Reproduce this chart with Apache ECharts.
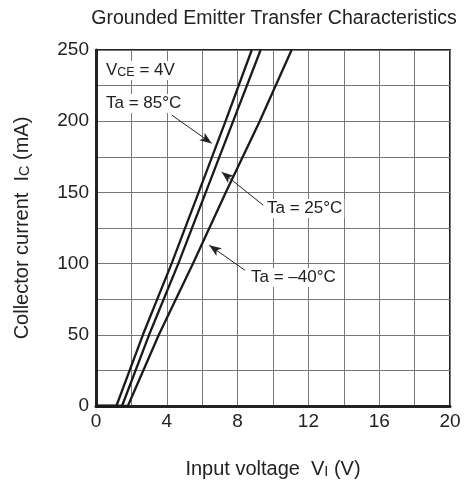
<!DOCTYPE html>
<html>
<head>
<meta charset="utf-8">
<script src="https://cdn.jsdelivr.net/npm/echarts@6/dist/echarts.min.js"></script>
<style>
  html, body { margin: 0; padding: 0; background: #fff; }
  #main { width: 464px; height: 492px; }
</style>
</head>
<body>
<div id="main"></div>
<script>
// Ic values (mA) shared by all three curves
const icValues = [0, 0, 50, 100, 150, 200, 250];
// input voltage VI (V), one per Ic value
const vi85 = [0, 1.15, 2.65, 4.27, 5.8, 7.32, 8.8];
const vi25 = [0, 1.47, 3.0, 4.65, 6.2, 7.75, 9.3];
const vi40 = [0, 1.8, 3.55, 5.48, 7.33, 9.25, 11.05];

const xTicks = [0, 4, 8, 12, 16, 20];
const yTicks = [0, 50, 100, 150, 200, 250];

// annotation arrows: [from, to] in data coordinates
const arrow85 = [[4.28, 204.3], [6.54, 184.4]];
const arrow25 = [[9.45, 141.0], [7.10, 164.4]];
const arrow40 = [[8.42, 95.3], [6.40, 112.9]];

const FONT = 'Liberation Sans, Arial, Helvetica, sans-serif';

function pairs(xs, ys) {
  return xs.map(function (x, i) { return [x, ys[i]]; });
}

function arrowLine(a) {
  return {
    silent: true,
    symbol: ['none', 'arrow'],
    symbolSize: [7, 12],
    label: { show: false },
    lineStyle: { color: '#222', width: 1, type: 'solid' },
    data: [[{ coord: a[0] }, { coord: a[1] }]]
  };
}

const chart = echarts.init(document.getElementById('main'));

const curveStyle = { color: '#1a1a1a', width: 2.3 };

const subRich = { s: { fontFamily: FONT, fontSize: 14.5, color: '#222', padding: [5, 0, 0, 0] } };

const option = {
  animation: false,
  title: {
    text: 'Grounded Emitter Transfer Characteristics',
    left: 269,
    textAlign: 'center',
    top: 4,
    textStyle: { fontFamily: FONT, fontSize: 19.5, fontWeight: 'normal', color: '#222' }
  },
  grid: {
    left: 96, right: 14, top: 50, bottom: 86,
    show: true, borderColor: '#222', borderWidth: 2
  },
  xAxis: {
    type: 'value', min: 0, max: 20, interval: 2,
    name: 'Input voltage  V{s|I} (V)',
    nameLocation: 'middle', nameGap: 53,
    nameTextStyle: { fontFamily: FONT, fontSize: 20, color: '#222', rich: subRich },
    axisLine: { show: true, lineStyle: { color: '#222', width: 3 } },
    axisTick: { show: false },
    axisLabel: {
      fontFamily: FONT, fontSize: 19, color: '#222', margin: 6,
      formatter: function (v) { return xTicks.indexOf(v) >= 0 ? String(v) : ''; }
    },
    splitLine: { show: true, lineStyle: { color: '#777', width: 1 } }
  },
  yAxis: {
    type: 'value', min: 0, max: 250, interval: 25,
    name: 'Collector current  I{s|C} (mA)',
    nameLocation: 'middle', nameGap: 64,
    nameTextStyle: { fontFamily: FONT, fontSize: 20, color: '#222', rich: subRich },
    axisLine: { show: true, lineStyle: { color: '#222', width: 3 } },
    axisTick: { show: false },
    axisLabel: {
      fontFamily: FONT, fontSize: 19, color: '#222', margin: 7,
      formatter: function (v) { return yTicks.indexOf(v) >= 0 ? String(v) : ''; }
    },
    splitLine: { show: true, lineStyle: { color: '#777', width: 1 } }
  },
  series: [
    {
      name: 'Ta = 85°C', type: 'line', showSymbol: false,
      data: pairs(vi85, icValues), lineStyle: curveStyle, itemStyle: { color: '#1a1a1a' },
      markLine: arrowLine(arrow85)
    },
    {
      name: 'Ta = 25°C', type: 'line', showSymbol: false,
      data: pairs(vi25, icValues), lineStyle: curveStyle, itemStyle: { color: '#1a1a1a' },
      markLine: arrowLine(arrow25)
    },
    {
      name: 'Ta = –40°C', type: 'line', showSymbol: false,
      data: pairs(vi40, icValues), lineStyle: curveStyle, itemStyle: { color: '#1a1a1a' },
      markLine: arrowLine(arrow40)
    }
  ]
};

chart.setOption(option);

// text labels placed next to the arrow tails
function label(text, x, y) {
  return {
    type: 'text', x: x, y: y, z: 100,
    style: {
      text: text, fontFamily: FONT, fontSize: 17, fill: '#222',
      backgroundColor: '#fff', padding: [1, 2, 1, 2],
      rich: { s: { fontFamily: FONT, fontSize: 12.5, fill: '#222', padding: [4, 0, 0, 0] } }
    }
  };
}

chart.setOption({
  graphic: [
    label('V{s|CE} = 4V', 104, 61),
    label('Ta = 85°C', 104, 94),
    label('Ta = 25°C', 265, 199),
    label('Ta = –40°C', 249, 268)
  ]
});
</script>
</body>
</html>
